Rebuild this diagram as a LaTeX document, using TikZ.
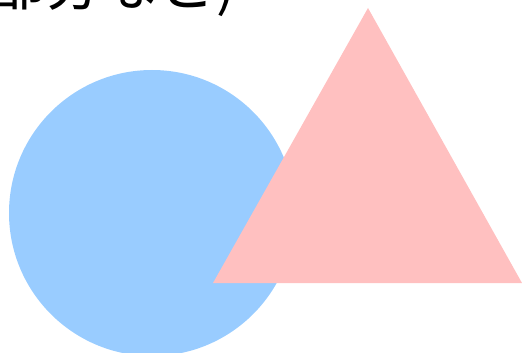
\documentclass[tikz,border=0pt]{standalone}
\usepackage{fontspec}
\newfontfamily\cjk{Noto Sans CJK JP}
\definecolor{circblue}{HTML}{99CCFF}
\definecolor{tripink}{HTML}{FFC0C0}
\begin{document}
\begin{tikzpicture}[x=1pt,y=-1pt]
\useasboundingbox (0,0) rectangle (522,353);
\clip (0,0) rectangle (522,353);
\fill[circblue] (152,213) circle[radius=143];
\fill[tripink] (368,8) -- (522,283) -- (213,283) -- cycle;
\node[anchor=base west, inner sep=0pt, font=\cjk\fontsize{57}{60}\selectfont] (caption) at (-12,6) {部分など)};
\end{tikzpicture}
\end{document}
